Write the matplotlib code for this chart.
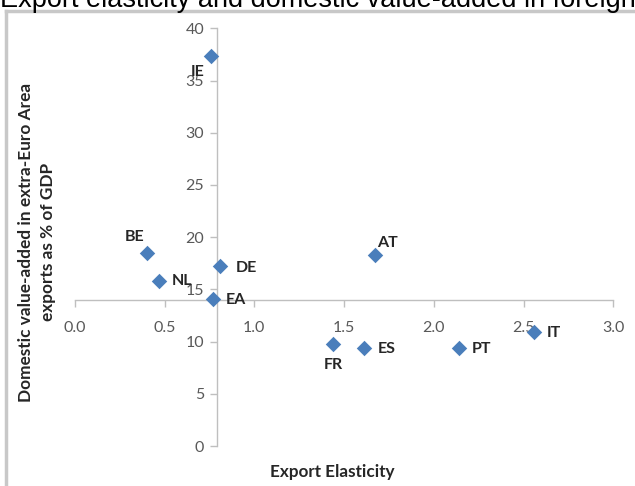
import matplotlib
matplotlib.use("Agg")
import matplotlib.pyplot as plt
from matplotlib.lines import Line2D
from matplotlib.ticker import FormatStrFormatter, MultipleLocator

plt.rcParams['font.family'] = ['Lato', 'DejaVu Sans']

countries = ["IE", "BE", "NL", "DE", "EA", "AT", "FR", "ES", "PT", "IT"]
elasticity = [0.76, 0.40, 0.47, 0.81, 0.77, 1.67, 1.44, 1.61, 2.14, 2.56]
dva_gdp = [37.4, 18.5, 15.8, 17.2, 14.05, 18.3, 9.77, 9.36, 9.36, 10.95]
# label offsets in pixels (dx, dy) -- style only
label_offsets = {"IE": (-14, -16), "BE": (-12, 16), "NL": (23, 0), "DE": (26, -2),
                 "EA": (23, -1), "AT": (13, 12), "FR": (0, -21), "ES": (23, -1),
                 "PT": (23, -1), "IT": (20, -1)}

title = "Export elasticity and domestic value-added in foreign demand"
xlabel = "Export Elasticity"
ylabel = "Domestic value-added in extra-Euro Area\nexports as % of GDP"

W, H = 635, 486
fig = plt.figure(figsize=(W / 100, H / 100), dpi=100)
ax = fig.add_axes([74.8 / W, (H - 446) / H, (613.3 - 74.8) / W, (446 - 28.4) / H])

grey = "#BFBFBF"
ax.scatter(elasticity, dva_gdp, marker="D", s=62, color="#4A7EBB", zorder=3, linewidths=0)
for c, x, y in zip(countries, elasticity, dva_gdp):
    dx, dy = label_offsets[c]
    ax.annotate(c, (x, y), xytext=(dx, dy), textcoords="offset pixels",
                ha="center", va="center", fontsize=11.5, fontweight="bold", color="#262626")

ax.set_xlim(0, 3.0)
ax.set_ylim(0, 40)
ax.xaxis.set_major_locator(MultipleLocator(0.5))
ax.yaxis.set_major_locator(MultipleLocator(5))
ax.xaxis.set_major_formatter(FormatStrFormatter("%.1f"))
for s in ["top", "right"]:
    ax.spines[s].set_visible(False)
ax.spines["left"].set_position(("data", 0.79))
ax.spines["bottom"].set_position(("data", 14.0))
for s in ["left", "bottom"]:
    ax.spines[s].set_color(grey)
    ax.spines[s].set_linewidth(1.0)
ax.tick_params(axis="both", direction="out", length=5, width=1, color=grey,
               labelsize=11.5, labelcolor="#595959")
ax.tick_params(axis="x", pad=10)
ax.tick_params(axis="y", pad=4)
ax.patch.set_visible(False)

fig.text(332 / W, 1 - 472 / H, xlabel, ha="center", va="center",
         fontsize=12.3, fontweight="bold", color="#262626")
fig.text(37 / W, 1 - 242 / H, ylabel, ha="center", va="center", rotation=90,
         multialignment="center", fontsize=12.4, fontweight="bold", color="#262626",
         linespacing=1.45)

fig.text(0, 1 - 7 / H, title, ha="left", va="baseline", fontsize=19.5,
         family=["Liberation Sans"], color="black")

# outer frame (left and top edges visible)
fig.add_artist(Line2D([6 / W, 6 / W], [0, 1 - 11 / H], transform=fig.transFigure,
                      color="#C8C8C8", linewidth=2.5))
fig.add_artist(Line2D([6 / W, 1], [1 - 11 / H, 1 - 11 / H], transform=fig.transFigure,
                      color="#C8C8C8", linewidth=2.5))

fig.savefig("out.png", dpi=100)
